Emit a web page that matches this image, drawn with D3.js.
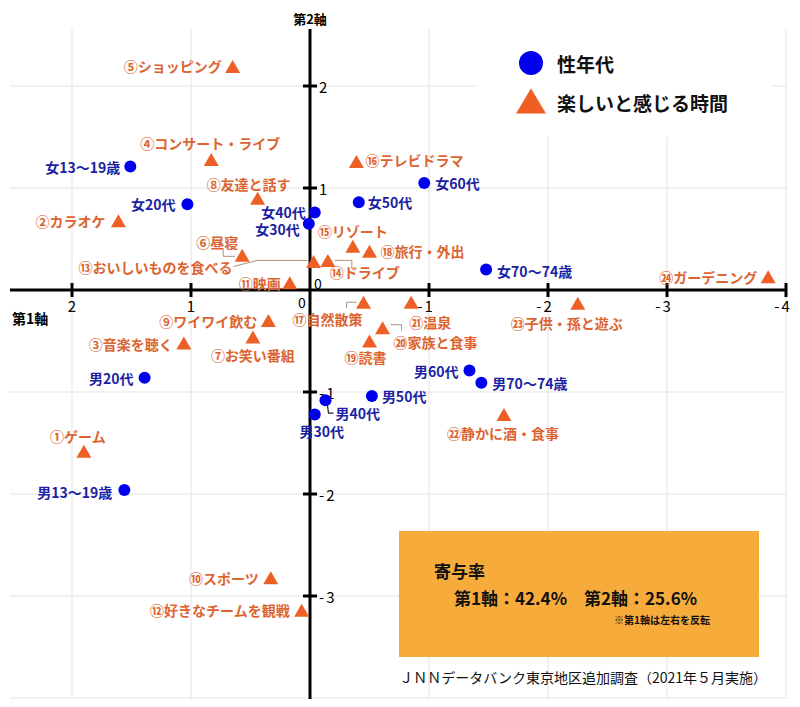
<!DOCTYPE html>
<html><head><meta charset="utf-8">
<script src="https://cdn.jsdelivr.net/npm/d3@7"></script>
<style>
html,body{margin:0;padding:0;background:#fff;}
svg{display:block;font-family:"Noto Sans CJK JP","Noto Sans",sans-serif;}
</style></head>
<body><svg id="c" width="800" height="707"></svg>
<script>
// ---- data ----
const groupNames = ["女13〜19歳","女20代","女30代","女40代","女50代","女60代","女70〜74歳",
  "男13〜19歳","男20代","男30代","男40代","男50代","男60代","男70〜74歳"];
const groupDim1 = [1.51,1.03,0.01,-0.04,-0.41,-0.96,-1.48, 1.56,1.39,-0.04,-0.13,-0.52,-1.34,-1.44];
const groupDim2 = [1.21,0.84,0.65,0.76,0.86,1.05,0.20, -1.96,-0.86,-1.22,-1.08,-1.04,-0.79,-0.91];

const activityNames = ["①ゲーム","②カラオケ","③音楽を聴く","④コンサート・ライブ","⑤ショッピング","⑥昼寝",
  "⑦お笑い番組","⑧友達と話す","⑨ワイワイ飲む","⑩スポーツ","⑪映画","⑫好きなチームを観戦",
  "⑬おいしいものを食べる","⑭ドライブ","⑮リゾート","⑯テレビドラマ","⑰自然散策","⑱旅行・外出",
  "⑲読書","⑳家族と食事","㉑温泉","㉒静かに酒・食事","㉓子供・孫と遊ぶ","㉔ガーデニング"];
const activityDim1 = [1.90,1.61,1.06,0.83,0.65,0.57,0.48,0.44,0.35,0.33,0.17,0.07,
  -0.03,-0.15,-0.36,-0.39,-0.45,-0.50,-0.50,-0.61,-0.85,-1.63,-2.25,-3.85];
const activityDim2 = [-1.58,0.68,-0.52,1.28,2.19,0.34,-0.46,0.90,-0.30,-2.82,0.07,-3.14,
  0.28,0.29,0.43,1.26,-0.12,0.38,-0.50,-0.37,-0.12,-1.22,-0.13,0.13];

const xTicks = [2,1,0,-1,-2,-3,-4];
const yTicks = [2,1,-1,-2,-3];
const legendLabels = ["性年代","楽しいと感じる時間"];
const axisTitles = ["第1軸","第2軸"];
const contribTitle = "寄与率";
const contribText = "第1軸：42.4%　第2軸：25.6%";
const contribNote = "※第1軸は左右を反転";
const sourceText = "ＪＮＮデータバンク東京地区追加調査（2021年５月実施）";

// ---- layout (label offsets relative to the mark) ----
const groupLabelPos = [
  ["end",-10,0],["end",-12,0],["end",-9,5],["end",-9,0],["start",9,0],["start",11,0],["start",11,1],
  ["end",-12,2],["end",-11,0],["middle",7,17],["start",10,13],["start",10,0],["end",-11,0],["start",11,0]];
const groupLeaders = {10:[[2,5],[3,13],[8,13]]};
const actLabelPos = [
  ["middle",-6,-15],["end",-13,0],["end",-11,1],["middle",-1,-16],["end",-11,-1],["end",-4,-13],
  ["middle",0,18],["middle",-9,-14],["end",-11,0],["end",-12,0],["end",-9,0],["end",-12,0],
  ["end",-81,6],["start",2,12],["start",-35,-15],["start",9,-1],["start",-71,17],["start",11,0],
  ["middle",-4,16],["start",11,14],["start",-2,20],["middle",-1,19],["middle",-11,20],["end",-11,0]];
const actLeaders = {
  5:[[-19,-7],[-19,1],[-7,1]],
  12:[[-80,5],[-56,-1],[-6,-1]],
  13:[[7,0],[24,0],[24,8]],
  16:[[-17,6],[-17,0],[-7,0]],
  19:[[8,-3],[19,-3],[19,3]]
};

const svg = d3.select("#c");
const x = d3.scaleLinear().domain([2,-4]).range([72,786]);
const y = d3.scaleLinear().domain([-4,2]).range([698,86]);
const x0 = x(0), y0 = y(0);
const xL = 10, xR = 787, yT = 29, yB = 699;

const blue = "#0000ee", blueText = "#1b1fa3", orange = "#ee5f25", orangeText = "#dc6431";

// grid
const g = svg.append("g");
g.selectAll("line.v").data(xTicks.filter(d=>d!==0)).join("line")
  .attr("x1",d=>x(d)).attr("x2",d=>x(d)).attr("y1",yT).attr("y2",yB)
  .attr("stroke","#e3e3e3").attr("stroke-width",1);
g.selectAll("line.h").data([2,1,-1,-2,-3,-4]).join("line")
  .attr("x1",xL).attr("x2",xR).attr("y1",d=>y(d)).attr("y2",d=>y(d))
  .attr("stroke","#e3e3e3").attr("stroke-width",1);

// legend white box
svg.append("rect").attr("x",475).attr("y",25).attr("width",297).attr("height",112).attr("fill","#fff");
// contribution box
svg.append("rect").attr("x",399).attr("y",531).attr("width",360).attr("height",126).attr("fill","#f7ab3b");

// axes
svg.append("line").attr("x1",xL).attr("x2",xR).attr("y1",y0).attr("y2",y0).attr("stroke","#000").attr("stroke-width",3);
svg.append("line").attr("x1",x0).attr("x2",x0).attr("y1",yT).attr("y2",yB).attr("stroke","#000").attr("stroke-width",3);
svg.selectAll("line.xt").data(xTicks.filter(d=>d!==0)).join("line")
  .attr("x1",d=>x(d)).attr("x2",d=>x(d)).attr("y1",y0-7).attr("y2",y0+7).attr("stroke","#000").attr("stroke-width",3);
svg.selectAll("line.yt").data(yTicks).join("line")
  .attr("x1",x0-7).attr("x2",x0+7).attr("y1",d=>y(d)).attr("y2",d=>y(d)).attr("stroke","#000").attr("stroke-width",3);
const fmt = d => d<0 ? "-"+Math.abs(d) : String(d);
svg.selectAll("text.xt").data(xTicks.filter(d=>d!==0)).join("text")
  .attr("x",d=>x(d)-(d<0?3:0)).attr("y",y0+15).attr("text-anchor","middle").attr("dominant-baseline","central")
  .attr("font-size",15).attr("fill","#000").attr("letter-spacing",d=>d<0?"2px":"0").text(fmt);
svg.selectAll("text.yt").data(yTicks).join("text")
  .attr("x",x0+9).attr("y",d=>y(d)).attr("text-anchor","start").attr("dominant-baseline","central")
  .attr("font-size",15).attr("fill","#000").attr("letter-spacing",d=>d<0?"2px":"0").text(fmt);
svg.append("text").attr("x",x0-8).attr("y",y0+12).attr("text-anchor","middle").attr("dominant-baseline","central")
  .attr("font-size",14).text("0");
svg.append("text").attr("x",x0+8).attr("y",y0-7).attr("text-anchor","middle").attr("dominant-baseline","central")
  .attr("font-size",14).text("0");
svg.append("text").attr("x",x0).attr("y",18).attr("text-anchor","middle").attr("dominant-baseline","central")
  .attr("font-size",13).attr("font-weight",700).text(axisTitles[1]);
svg.append("text").attr("x",12).attr("y",y0+28).attr("text-anchor","start").attr("dominant-baseline","central")
  .attr("font-size",14).attr("font-weight",700).text(axisTitles[0]);

// leaders
const line = d3.line();
Object.entries(actLeaders).forEach(([i,pts])=>{
  const px=x(activityDim1[i]), py=y(activityDim2[i]);
  svg.append("path").attr("d",line(pts.map(p=>[px+p[0],py+p[1]]))).attr("fill","none")
    .attr("stroke","#b09080").attr("stroke-width",1);
});
Object.entries(groupLeaders).forEach(([i,pts])=>{
  const px=x(groupDim1[i]), py=y(groupDim2[i]);
  svg.append("path").attr("d",line(pts.map(p=>[px+p[0],py+p[1]]))).attr("fill","none")
    .attr("stroke","#222").attr("stroke-width",1.2);
});

// triangles
const tri = (cx,cy,w,h)=>`M${cx},${cy-h/2}L${cx+w/2},${cy+h/2}L${cx-w/2},${cy+h/2}Z`;
svg.selectAll("path.tri").data(activityNames).join("path")
  .attr("d",(d,i)=>tri(x(activityDim1[i]),y(activityDim2[i]),15,13)).attr("fill",orange);
svg.selectAll("text.act").data(activityNames).join("text")
  .attr("x",(d,i)=>x(activityDim1[i])+actLabelPos[i][1])
  .attr("y",(d,i)=>y(activityDim2[i])+actLabelPos[i][2])
  .attr("text-anchor",(d,i)=>actLabelPos[i][0]).attr("dominant-baseline","central")
  .attr("font-size",14).attr("font-weight",700).attr("fill",orangeText).text(d=>d);

// circles
svg.selectAll("circle.grp").data(groupNames).join("circle")
  .attr("cx",(d,i)=>x(groupDim1[i])).attr("cy",(d,i)=>y(groupDim2[i])).attr("r",6).attr("fill",blue);
svg.selectAll("text.grp").data(groupNames).join("text")
  .attr("x",(d,i)=>x(groupDim1[i])+groupLabelPos[i][1])
  .attr("y",(d,i)=>y(groupDim2[i])+groupLabelPos[i][2])
  .attr("text-anchor",(d,i)=>groupLabelPos[i][0]).attr("dominant-baseline","central")
  .attr("font-size",14).attr("font-weight",700).attr("fill",blueText).text(d=>d);

// legend
svg.append("circle").attr("cx",531).attr("cy",63).attr("r",12).attr("fill",blue);
svg.append("path").attr("d",tri(531,101,30,25)).attr("fill",orange);
svg.selectAll("text.leg").data(legendLabels).join("text")
  .attr("x",557).attr("y",(d,i)=>63+i*39).attr("dominant-baseline","central")
  .attr("font-size",19).attr("font-weight",700).attr("fill","#111").text(d=>d);

// contribution box text
svg.append("text").attr("x",434).attr("y",570).attr("dominant-baseline","central")
  .attr("font-size",17).attr("font-weight",700).attr("fill","#111").text(contribTitle);
svg.append("text").attr("x",454).attr("y",597).attr("dominant-baseline","central")
  .attr("font-size",17).attr("font-weight",700).attr("fill","#111").text(contribText);
svg.append("text").attr("x",710).attr("y",619).attr("text-anchor","end").attr("dominant-baseline","central")
  .attr("font-size",10).attr("font-weight",700).attr("fill","#111").text(contribNote);
svg.append("text").attr("x",767).attr("y",677).attr("text-anchor","end").attr("dominant-baseline","central")
  .attr("font-size",14).attr("fill","#111").text(sourceText);
</script></body></html>
